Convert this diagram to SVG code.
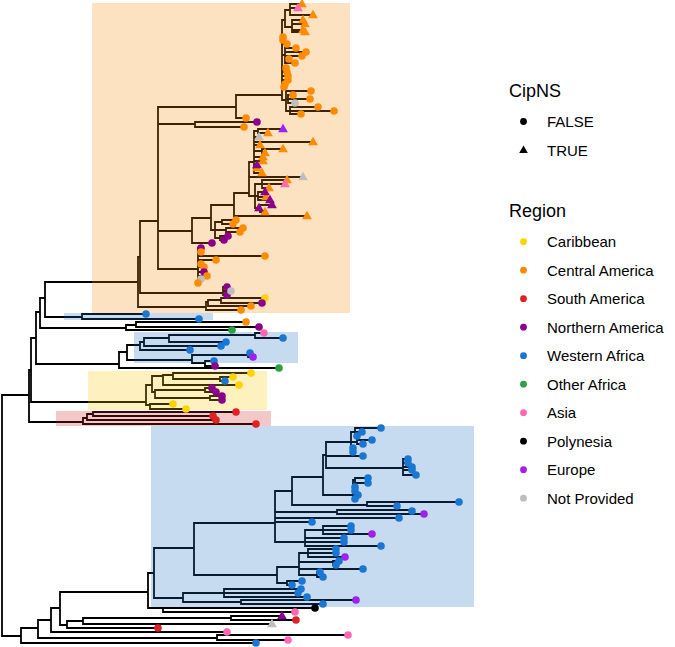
<svg xmlns="http://www.w3.org/2000/svg" xmlns:xlink="http://www.w3.org/1999/xlink" width="675" height="647" viewBox="0 0 675 647">
<style>
.br{fill:none;stroke:#000;stroke-width:1.8;stroke-linecap:square}
.hl{opacity:0.25}
.y{fill:#FFD300}.o{fill:#FF8C00}.r{fill:#E02222}.p{fill:#8B008B}.b{fill:#1976D2}.g{fill:#2E9E48}.k{fill:#FF69B4}.n{fill:#000}.e{fill:#A020F0}.z{fill:#BEBEBE}
.lt{font-family:"Liberation Sans",Arial,sans-serif;font-size:15px;fill:#000}
.lh{font-family:"Liberation Sans",Arial,sans-serif;font-size:18px;fill:#000}
</style>
<defs>
<circle id="c" r="3.8"/>
<path id="t" d="M0,-5.2L4.9,3.2L-4.9,3.2Z"/>
<circle id="lc" r="3.4"/>
<path id="lt" d="M0,-4.6L4.3,2.9L-4.3,2.9Z"/>
</defs>
<rect width="675" height="647" fill="#fff"/>
<g id="connectors">
<path class="br" d="M2 395V636M2 395H29M29 370V422M2 636H21M21 628V643M29 370H31M31 338V402M29 422H83M31 338H36M36 312V364M31 402H146M36 312H40M40 298V328M36 364H119M40 298H45M45 282V317M40 328H126M45 282H138M45 317H82
M82 314V319M82 314H146M82 319H199
M126 325V330M126 325H136M136 322V327M136 322H246M136 327H259M126 330H232
M119 352V368M119 352H127M119 368H279M127 345V360M127 345H140M127 360H192M140 342V350M140 342H144M140 350H190M144 338V346M144 338H169M144 346H221M169 335V342M169 335H255M169 342H226M255 333V338M255 333H264M255 338H283M192 355V363M192 355H248M248 353V357M248 353H250M248 357H253M192 363H205M205 361V366M205 361H214M205 366H215
M146 385V405M146 385H152M146 405H150M152 376V392M152 376H163M152 392H155M163 375V385M163 375H173M163 385H239M173 373V379M173 373H251M173 379H220M220 377V381M220 377H233M220 381H225M155 390V398M155 390H205M205 388V392M205 388H212M205 392H216M155 398H210M210 396V400M210 396H222M210 400H222M150 404V409M150 404H173M150 409H186
M83 418V424M83 418H87M83 424H256M87 414V420M87 414H93M87 420H216M93 412V416M93 412H236M93 416H213
M138 257V307M138 257H140M138 307H206M140 221V293M140 221H158M140 293H223M223 287V295M223 287H227M223 291H231M223 295H227M206 302V310M206 302H208M206 310H241M208 300V306M208 300H221M208 306H251M221 298V303M221 298H265M221 303H262
M158 107V269M158 107H236M158 124H195M158 231H192M158 269H198M236 95V118M236 95H282M236 118H246M195 122V127M195 122H257M195 127H244
M282 20V100M282 20H285M285 10V27M285 10H290M285 27H292M290 4V15M290 4H302M290 8H298M290 15H313M292 20V32M292 20H303M292 24H305M292 30H303M292 32H305
M282 37H283M282 40H283M282 44H287M282 55H285M285 48V63M285 48H296M285 52H306M285 56H302M285 59H289M285 63H295M282 68H286M282 72H287M282 76H288M282 80H288M282 84H285M282 87H284
M282 100H286M286 91V111M286 91H311M286 99H288M288 95V103M288 95H293M288 99H310M288 103H295M286 111H290M290 107V114M290 107H318M290 111H334M290 114H301
M192 218V243M192 218H211M192 243H212M211 205V230M211 205H234M211 230H215M215 222V238M215 222H222M222 220V224M222 220H236M222 224H233M215 230H226M226 228V232M226 228H243M226 232H240M215 238H220M220 236V240M220 236H228M220 240H224
M234 193V216M234 193H249M234 216H307M249 162V196M249 162H254M249 177H303M249 196H255
M254 131V173M254 131H258M258 129V133M258 129H283M258 133H268M254 137H259M254 142H313M254 145H260M254 151H262M262 149V153M262 149H283M262 153H265M254 157H263M254 161H263M254 165H257M254 168H257M254 173H262
M255 184V208M255 184H262M262 180V188M262 180H287M262 184H285M262 188H269M255 196H258M258 192V200M258 192H265M258 197H266M258 200H270M255 208H260M260 205V212M260 205H272M260 208H259M260 212H265
M198 248V284M198 248H201M198 252H201M198 256H265M198 260H216M198 264H201M198 267H204M198 272H204M198 276H207M198 279H201
M21 628H38M21 643H256M38 620V638M38 620H51M38 638H217M217 635V640M217 635H348M217 640H288M51 608V632M51 608H60M51 632H227M60 592V625M60 592H148M60 625H67M67 621V628M67 621H83M67 628H158M83 618V624M83 618H231M83 624H272M231 616V620M231 616H282M231 620H296
M148 573V608M148 573H154M148 608H163M163 608V612M163 608H315M163 612H295M154 548V598M154 548H194M154 598H183M183 593V602M183 593H224M183 602H241M224 589V597M224 589H301M224 593H298M224 597H307M241 600V604M241 600H356M241 604H323
M194 523V575M194 523H275M194 575H277M275 491V542M275 491H292M275 512H337M337 510V514M337 510H412M337 514H424M275 518H399M275 522H312M275 542H305
M292 477V505M292 477H323M292 505H367M367 502V506M367 502H459M367 506H397M323 455V495M323 455H326M323 495H353M326 442V468M326 442H351M326 456H363M326 468H403
M351 432V452M351 432H355M355 428V436M355 428H381M355 432H362M355 436H357M351 442H357M357 440V444M357 440H372M357 444H363M351 448H353M351 452H353
M403 459V475M403 459H408M403 463H408M403 467H412M403 470H412M403 475H416
M353 480V499M353 480H355M355 478V483M355 478H368M355 483H368M353 487H355M353 491H355M353 495H358M353 499H355
M305 530V546M305 530H323M323 526V534M323 526H351M323 530H351M323 534H372M305 538H344M305 542H344M305 546H381
M277 567V583M277 567H299M277 583H287M287 581V585M287 581H302M287 585H292M299 553V575M299 553H308M308 549V557M308 549H336M308 553H336M308 557H345M299 562H333M333 561V565M333 561H339M333 565H336M299 569H363M299 575H317M317 572V577M317 572H320M317 577H323"/>
</g>
<g id="highlights">
<rect id="hl-central-america" class="hl" x="92" y="3" width="258" height="310" fill="#F98B0C"/>
<rect id="hl-wafrica-small" class="hl" x="64" y="313" width="149" height="7" fill="#1A6FC4"/>
<rect id="hl-wafrica-mid" class="hl" x="134" y="332" width="164" height="31" fill="#1A6FC4"/>
<rect id="hl-caribbean" class="hl" x="88" y="371" width="179" height="39" fill="#F5C800"/>
<rect id="hl-south-america" class="hl" x="56" y="411" width="215" height="15" fill="#CC2424"/>
<rect id="hl-wafrica-big" class="hl" x="151" y="426" width="323" height="181" fill="#1A6FC4"/>
</g>
<g id="tips">
<g id="clade-central-america">
<use href="#t" x="302" y="4" class="o"/><use href="#t" x="298" y="8" class="k"/><use href="#t" x="313" y="15" class="o"/>
<use href="#t" x="303" y="20" class="o"/><use href="#t" x="305" y="24" class="o"/><use href="#t" x="303" y="30" class="o"/><use href="#t" x="305" y="32" class="o"/>
<use href="#c" x="283" y="37" class="o"/><use href="#c" x="283" y="40" class="o"/><use href="#c" x="287" y="44" class="o"/><use href="#c" x="296" y="48" class="o"/><use href="#c" x="306" y="52" class="o"/><use href="#c" x="302" y="56" class="o"/><use href="#c" x="289" y="59" class="o"/><use href="#c" x="295" y="63" class="o"/><use href="#c" x="286" y="68" class="o"/><use href="#c" x="287" y="72" class="o"/><use href="#c" x="288" y="76" class="o"/><use href="#c" x="288" y="80" class="o"/><use href="#c" x="285" y="84" class="o"/><use href="#c" x="284" y="87" class="o"/><use href="#c" x="311" y="91" class="o"/><use href="#c" x="293" y="95" class="o"/><use href="#c" x="310" y="99" class="o"/><use href="#c" x="295" y="103" class="z"/><use href="#c" x="318" y="107" class="o"/><use href="#c" x="334" y="111" class="o"/><use href="#c" x="301" y="114" class="o"/>
<use href="#c" x="246" y="118" class="o"/><use href="#c" x="257" y="122" class="p"/><use href="#c" x="244" y="127" class="o"/>
<use href="#t" x="283" y="129" class="e"/><use href="#t" x="268" y="133" class="o"/><use href="#t" x="259" y="137" class="z"/><use href="#t" x="313" y="142" class="o"/><use href="#t" x="260" y="145" class="o"/><use href="#t" x="283" y="149" class="o"/><use href="#t" x="265" y="153" class="o"/><use href="#t" x="263" y="157" class="o"/><use href="#t" x="263" y="161" class="o"/><use href="#t" x="257" y="168" class="o"/><use href="#t" x="257" y="165" class="p"/><use href="#t" x="262" y="173" class="o"/>
<use href="#t" x="303" y="177" class="z"/><use href="#t" x="287" y="180" class="o"/><use href="#t" x="285" y="184" class="k"/><use href="#t" x="269" y="188" class="o"/><use href="#t" x="266" y="197" class="o"/><use href="#t" x="265" y="192" class="p"/><use href="#t" x="270" y="200" class="p"/><use href="#t" x="272" y="205" class="p"/><use href="#t" x="265" y="212" class="o"/><use href="#t" x="259" y="208" class="p"/><use href="#t" x="307" y="216" class="o"/>
<use href="#c" x="236" y="220" class="o"/><use href="#c" x="233" y="224" class="o"/><use href="#c" x="243" y="228" class="o"/><use href="#c" x="240" y="232" class="o"/><use href="#c" x="228" y="236" class="p"/><use href="#c" x="224" y="240" class="p"/><use href="#c" x="212" y="243" class="p"/>
<use href="#c" x="201" y="248" class="p"/><use href="#c" x="201" y="252" class="o"/><use href="#c" x="265" y="256" class="o"/><use href="#c" x="216" y="260" class="o"/><use href="#c" x="201" y="264" class="o"/><use href="#c" x="204" y="267" class="o"/><use href="#c" x="204" y="272" class="p"/><use href="#c" x="207" y="276" class="o"/><use href="#c" x="201" y="279" class="z"/><use href="#c" x="198" y="283" class="o"/>
<use href="#c" x="227" y="287" class="p"/><use href="#c" x="227" y="295" class="p"/><use href="#c" x="231" y="291" class="z"/>
<use href="#c" x="265" y="298" class="y"/><use href="#c" x="262" y="303" class="p"/><use href="#c" x="251" y="306" class="o"/><use href="#c" x="241" y="310" class="o"/>
</g>
<g id="clade-small-wafrica">
<use href="#c" x="146" y="314" class="b"/><use href="#c" x="199" y="319" class="b"/>
</g>
<g id="clade-mixed">
<use href="#c" x="246" y="322" class="o"/><use href="#c" x="259" y="327" class="p"/><use href="#c" x="232" y="330" class="g"/>
</g>
<g id="clade-mid-wafrica">
<use href="#c" x="264" y="333" class="k"/><use href="#c" x="283" y="338" class="b"/><use href="#c" x="226" y="342" class="b"/><use href="#c" x="221" y="346" class="b"/><use href="#c" x="190" y="350" class="b"/><use href="#c" x="250" y="353" class="b"/><use href="#c" x="253" y="357" class="e"/><use href="#c" x="214" y="361" class="b"/><use href="#c" x="215" y="366" class="p"/><use href="#c" x="279" y="368" class="g"/>
</g>
<g id="clade-caribbean">
<use href="#c" x="251" y="373" class="y"/><use href="#c" x="233" y="377" class="y"/><use href="#c" x="225" y="381" class="b"/><use href="#c" x="239" y="385" class="y"/><use href="#c" x="212" y="388" class="p"/><use href="#c" x="216" y="392" class="p"/><use href="#c" x="222" y="396" class="p"/><use href="#c" x="222" y="400" class="p"/><use href="#c" x="173" y="404" class="y"/><use href="#c" x="186" y="409" class="y"/>
</g>
<g id="clade-south-america">
<use href="#c" x="236" y="412" class="r"/><use href="#c" x="213" y="416" class="r"/><use href="#c" x="216" y="420" class="r"/><use href="#c" x="256" y="424" class="r"/>
</g>
<g id="clade-big-wafrica">
<use href="#c" x="381" y="428" class="b"/><use href="#c" x="362" y="432" class="b"/><use href="#c" x="357" y="436" class="b"/><use href="#c" x="372" y="440" class="b"/><use href="#c" x="363" y="444" class="b"/><use href="#c" x="353" y="448" class="b"/><use href="#c" x="353" y="452" class="b"/><use href="#c" x="363" y="456" class="b"/>
<use href="#c" x="408" y="459" class="b"/><use href="#c" x="408" y="463" class="b"/><use href="#c" x="412" y="467" class="b"/><use href="#c" x="412" y="470" class="b"/><use href="#c" x="416" y="475" class="b"/>
<use href="#c" x="368" y="478" class="b"/><use href="#c" x="368" y="483" class="b"/><use href="#c" x="355" y="487" class="b"/><use href="#c" x="355" y="491" class="b"/><use href="#c" x="358" y="495" class="b"/><use href="#c" x="355" y="499" class="b"/>
<use href="#c" x="459" y="502" class="b"/><use href="#c" x="397" y="506" class="b"/><use href="#c" x="412" y="511" class="b"/><use href="#c" x="424" y="514" class="e"/><use href="#c" x="399" y="518" class="b"/><use href="#c" x="312" y="522" class="b"/>
<use href="#c" x="351" y="526" class="b"/><use href="#c" x="351" y="530" class="b"/><use href="#c" x="372" y="534" class="e"/><use href="#c" x="344" y="538" class="b"/><use href="#c" x="344" y="542" class="b"/><use href="#c" x="381" y="546" class="b"/>
<use href="#c" x="336" y="549" class="b"/><use href="#c" x="336" y="553" class="b"/><use href="#c" x="345" y="557" class="e"/><use href="#c" x="339" y="561" class="b"/><use href="#c" x="336" y="565" class="b"/><use href="#c" x="363" y="569" class="b"/><use href="#c" x="320" y="572" class="b"/><use href="#c" x="323" y="577" class="b"/>
<use href="#c" x="302" y="581" class="b"/><use href="#c" x="292" y="585" class="b"/><use href="#c" x="301" y="589" class="b"/><use href="#c" x="298" y="593" class="b"/><use href="#c" x="307" y="597" class="b"/><use href="#c" x="356" y="600" class="e"/><use href="#c" x="323" y="604" class="b"/>
</g>
<g id="clade-basal">
<use href="#c" x="315" y="608" class="n"/><use href="#c" x="295" y="612" class="k"/><use href="#t" x="282" y="616" class="p"/><use href="#c" x="296" y="620" class="r"/><use href="#t" x="272" y="624" class="z"/><use href="#c" x="158" y="628" class="r"/><use href="#c" x="227" y="632" class="k"/><use href="#c" x="348" y="635" class="k"/><use href="#c" x="288" y="640" class="k"/><use href="#c" x="256" y="643" class="b"/>
</g>
</g>
<g id="legend-cipns">
<text class="lh" x="509" y="96.5">CipNS</text>
<use href="#lc" x="523.5" y="121.5" class="n"/><text class="lt" x="547" y="127">FALSE</text>
<use href="#lt" x="523.5" y="150" class="n"/><text class="lt" x="547" y="155.5">TRUE</text>
</g>
<g id="legend-region">
<text class="lh" x="509" y="217">Region</text>
<use href="#lc" x="523.5" y="241.7" class="y"/><text class="lt" x="547" y="247.2">Caribbean</text>
<use href="#lc" x="523.5" y="270.2" class="o"/><text class="lt" x="547" y="275.7">Central America</text>
<use href="#lc" x="523.5" y="298.7" class="r"/><text class="lt" x="547" y="304.2">South America</text>
<use href="#lc" x="523.5" y="327.2" class="p"/><text class="lt" x="547" y="332.7">Northern America</text>
<use href="#lc" x="523.5" y="355.7" class="b"/><text class="lt" x="547" y="361.2">Western Africa</text>
<use href="#lc" x="523.5" y="384.2" class="g"/><text class="lt" x="547" y="389.7">Other Africa</text>
<use href="#lc" x="523.5" y="412.7" class="k"/><text class="lt" x="547" y="418.2">Asia</text>
<use href="#lc" x="523.5" y="441.2" class="n"/><text class="lt" x="547" y="446.7">Polynesia</text>
<use href="#lc" x="523.5" y="469.7" class="e"/><text class="lt" x="547" y="475.2">Europe</text>
<use href="#lc" x="523.5" y="498.2" class="z"/><text class="lt" x="547" y="503.7">Not Provided</text>
</g>
</svg>
